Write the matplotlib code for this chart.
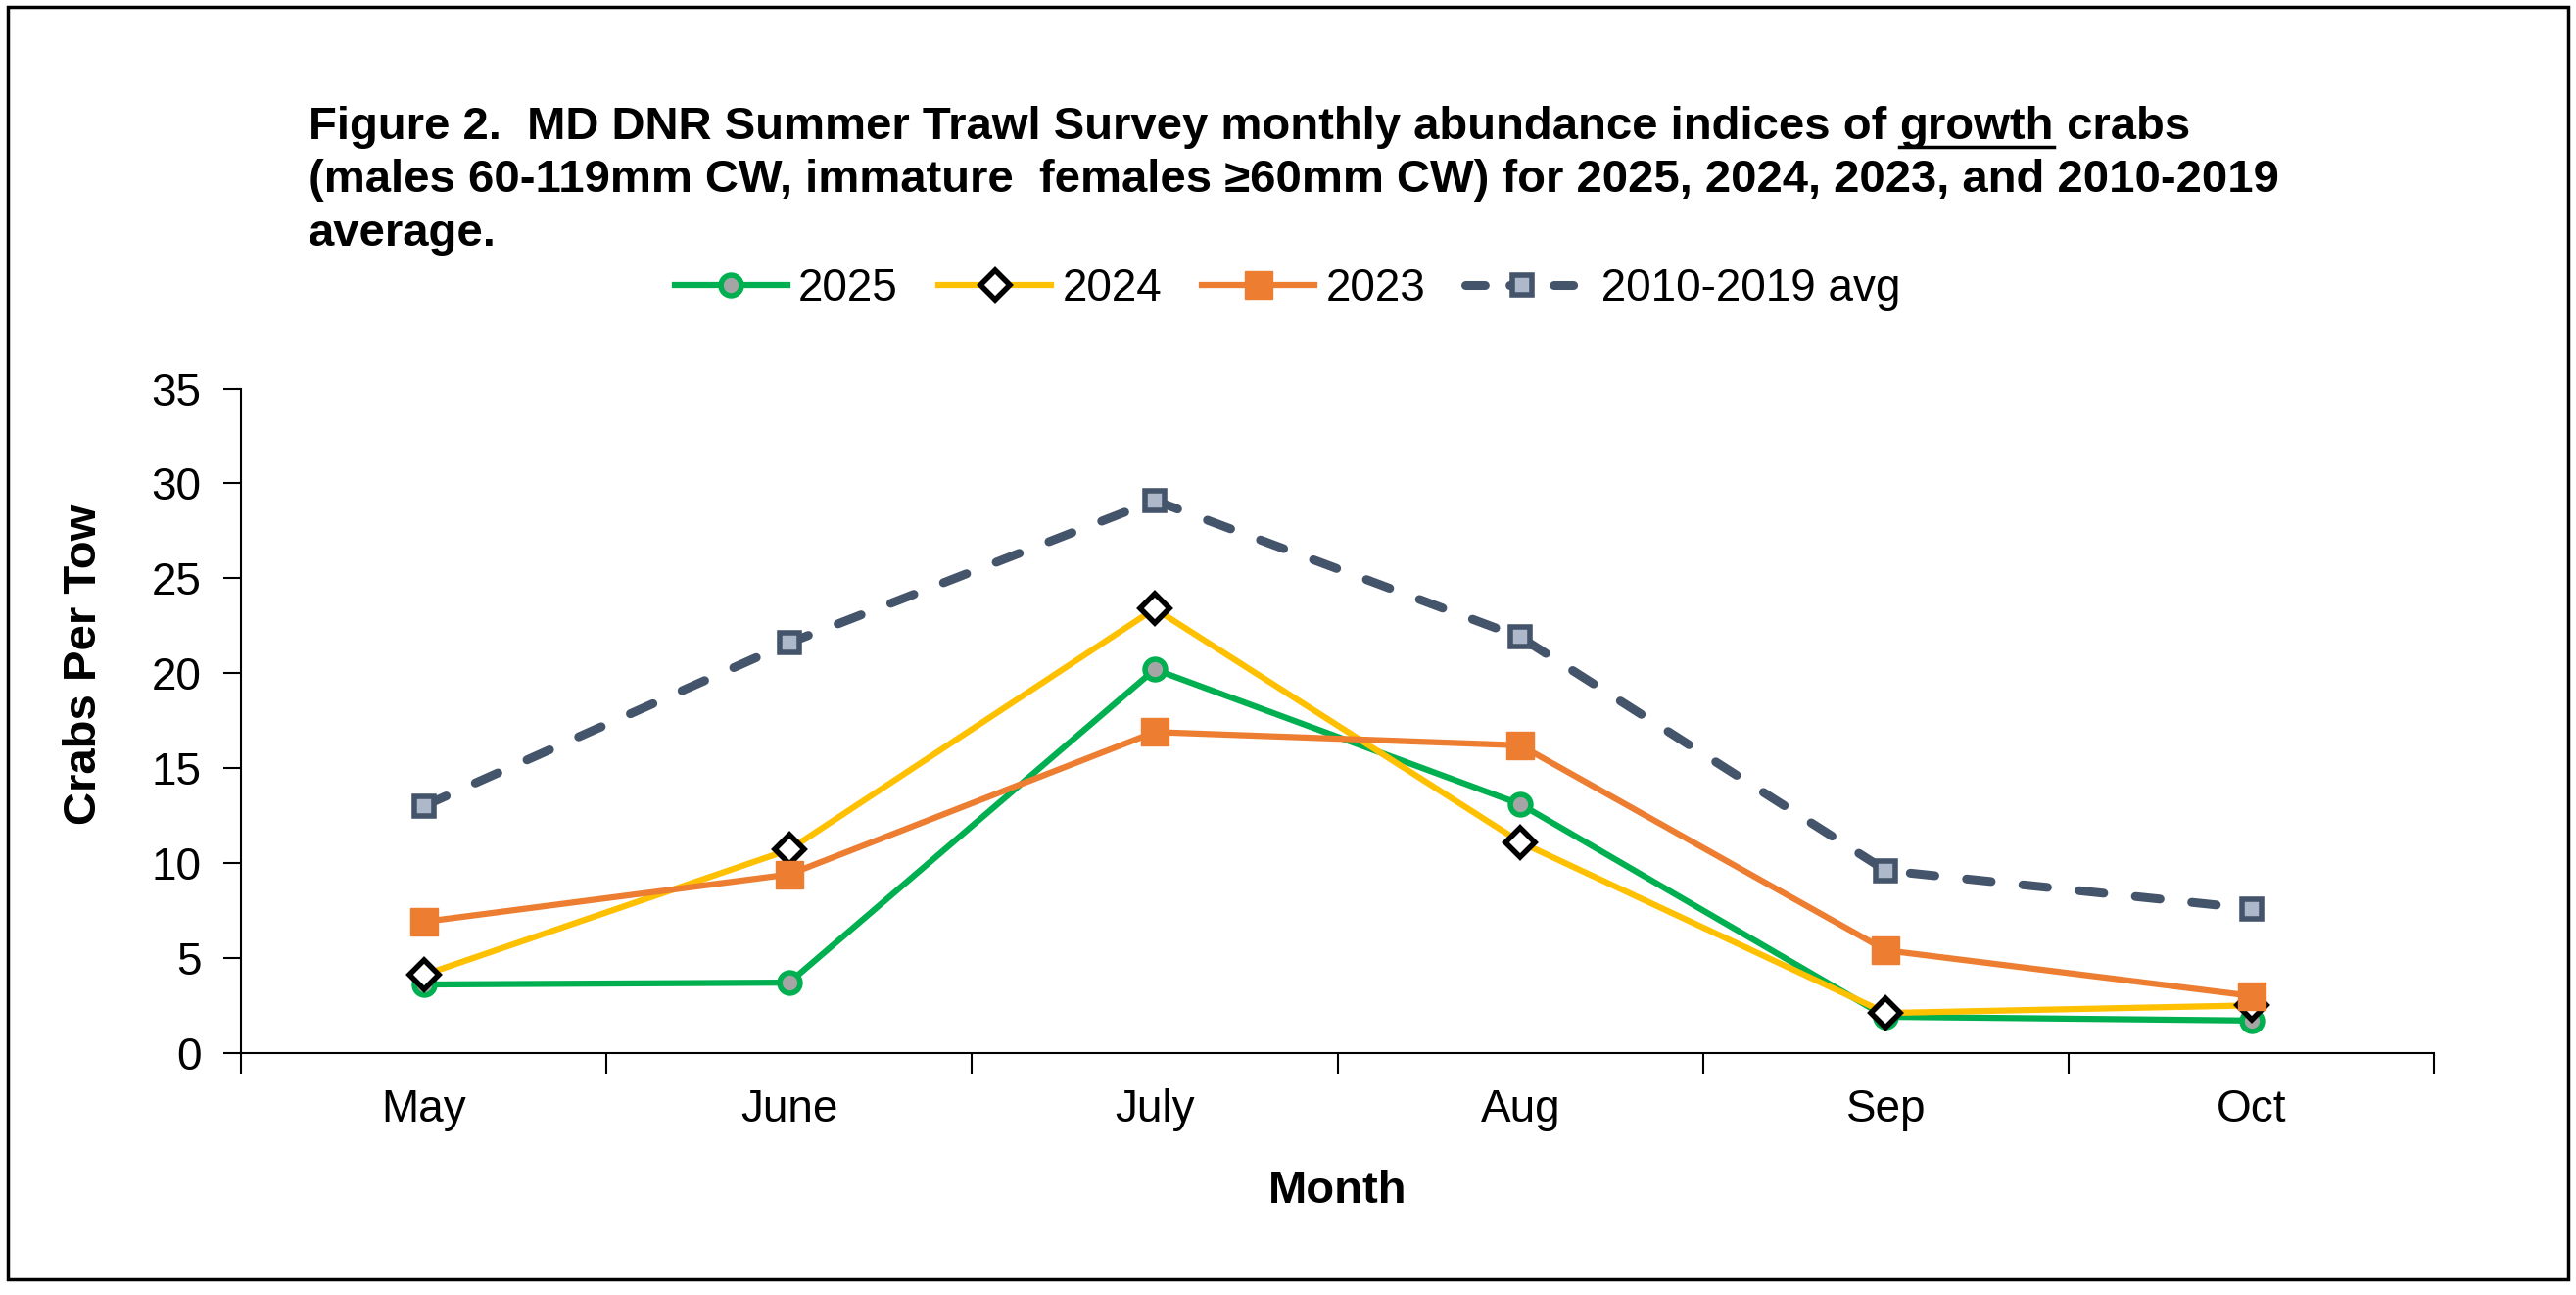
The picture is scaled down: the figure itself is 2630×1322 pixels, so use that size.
import matplotlib
matplotlib.use("Agg")
import matplotlib.pyplot as plt
from matplotlib.lines import Line2D
from matplotlib.patches import Rectangle
import numpy as np

plt.rcParams['font.family'] = ['Liberation Sans', 'DejaVu Sans']

months = ['May', 'June', 'July', 'Aug', 'Sep', 'Oct']
y2025 = [3.6, 3.7, 20.2, 13.1, 1.9, 1.7]
y2024 = [4.1, 10.7, 23.4, 11.1, 2.1, 2.5]
y2023 = [6.9, 9.4, 16.9, 16.2, 5.4, 3.0]
yavg = [13.0, 21.6, 29.1, 21.9, 9.6, 7.6]

fig = plt.figure(figsize=(26.3, 13.22), dpi=100)
ax = fig.add_axes([0.0935, 0.187, 0.8515, 0.513])

x = np.arange(len(months))
l1, = ax.plot(x, y2025, color='#00B050', lw=4.5, marker='o', ms=15, mfc='#A5A5A5',
              mec='#00B050', mew=4, label='2025', zorder=3)
l2, = ax.plot(x, y2024, color='#FFC000', lw=4.5, marker='D', ms=15, mfc='white',
              mec='black', mew=4, label='2024', zorder=4)
l3, = ax.plot(x, y2023, color='#ED7D31', lw=4.5, marker='s', ms=20, mfc='#ED7D31',
              mec='#ED7D31', label='2023', zorder=5)
avg_style = dict(color='#44546A', lw=6.5, dash_capstyle='round', marker='s', ms=15,
                 mfc='#ADB9CA', mec='#44546A', mew=4)
ax.plot(x, yavg, ls=(0, (2.8, 3.6)), zorder=2, **avg_style)
# legend proxy for the average line (shorter dashes so it reads dash-marker-dash)
l4 = Line2D([], [], ls=(0, (2.2, 2.8)), **avg_style)

ax.set_xlim(-0.5, 5.5)
ax.set_ylim(0, 35)
ax.set_yticks(np.arange(0, 36, 5))
ax.set_xticks(x)
ax.set_xticklabels(months)
ax.set_xticks(np.arange(-0.5, 6, 1), minor=True)
ax.tick_params(axis='x', which='major', length=0, labelsize=33, pad=26)
ax.tick_params(axis='x', which='minor', length=15, width=1.5)
ax.tick_params(axis='y', length=13, width=1.5, labelsize=33, pad=16)
for s in ['top', 'right']:
    ax.spines[s].set_visible(False)
for s in ['left', 'bottom']:
    ax.spines[s].set_linewidth(1.5)

ax.set_ylabel('Crabs Per Tow', fontsize=34, fontweight='bold')
ax.yaxis.set_label_coords(-0.0616, 0.585)
ax.set_xlabel('Month', fontsize=34, fontweight='bold', labelpad=28)

ax.legend([l1, l2, l3, l4], ['2025', '2024', '2023', ' 2010-2019 avg'],
          loc='center', bbox_to_anchor=(0.5, 0.777), bbox_transform=fig.transFigure,
          ncol=4, frameon=False, fontsize=33, handlelength=2.5, handletextpad=0.25,
          columnspacing=0.9)

# title, left aligned, with underlined "growth"
tx, ty = 0.1198, 0.8925
lh = 0.041
t1 = fig.text(tx, ty, 'Figure 2.  MD DNR Summer Trawl Survey monthly abundance indices of ',
              fontsize=34, fontweight='bold', va='baseline')
t2 = fig.text(0, 0, 'growth', fontsize=34, fontweight='bold', va='baseline')
t3 = fig.text(0, 0, ' crabs', fontsize=34, fontweight='bold', va='baseline')
fig.text(tx, ty - lh, '(males 60-119mm CW, immature  females \u226560mm CW) for 2025, 2024, 2023, and 2010-2019',
         fontsize=34, fontweight='bold', va='baseline')
fig.text(tx, ty - 2 * lh, 'average.', fontsize=34, fontweight='bold', va='baseline')

fig.canvas.draw()
r = fig.canvas.get_renderer()
inv = fig.transFigure.inverted()
b1 = t1.get_window_extent(r)
x1 = inv.transform((b1.x1, 0))[0]
t2.set_position((x1, ty))
fig.canvas.draw()
b2 = t2.get_window_extent(r)
x2 = inv.transform((b2.x1, 0))[0]
x2s = inv.transform((b2.x0, 0))[0]
t3.set_position((x2, ty))
fig.add_artist(Line2D([x2s, x2], [ty - 0.006, ty - 0.006], color='black', lw=2.5,
                      transform=fig.transFigure))

# outer frame
fig.add_artist(Rectangle((0.003, 0.012), 0.994, 0.983, fill=False, ec='black', lw=2.5,
                         transform=fig.transFigure))

plt.savefig('out.png', dpi=100)
